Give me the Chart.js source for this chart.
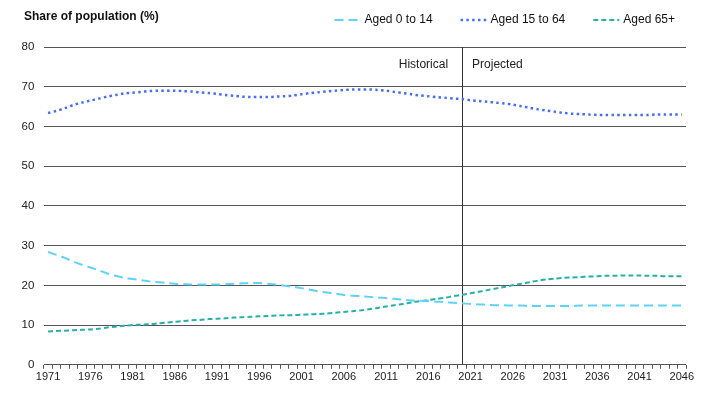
<!DOCTYPE html>
<html>
<head>
<meta charset="utf-8">
<script src="https://cdn.jsdelivr.net/npm/chart.js@4/dist/chart.umd.min.js"></script>
<style>
  html, body { margin: 0; padding: 0; background: #fff; }
  #wrap { width: 720px; height: 398px; position: relative; }
</style>
</head>
<body>
<div id="wrap"><canvas id="popChart"></canvas></div>
<script>
// Data
let years = [];
for (let y = 1971; y <= 2046; y++) years.push(String(y));

let aged0to14 = [
  28.4, 27.7, 26.9, 26.0, 25.2, 24.5, 23.8, 23.0, 22.4, 21.9,
  21.6, 21.3, 21.0, 20.8, 20.6, 20.4, 20.3, 20.2, 20.2, 20.2,
  20.2, 20.3, 20.4, 20.5, 20.6, 20.6, 20.4, 20.2, 19.9, 19.6,
  19.3, 18.9, 18.5, 18.2, 17.9, 17.6, 17.4, 17.3, 17.1, 16.9,
  16.8, 16.6, 16.4, 16.2, 16.1, 16.0, 15.9, 15.8, 15.6, 15.5,
  15.3, 15.2, 15.1, 15.0, 15.0, 14.9, 14.9, 14.8, 14.8, 14.8,
  14.8, 14.8, 14.8, 14.9, 14.9, 14.9, 14.9, 14.9, 14.9, 14.9,
  14.9, 14.9, 14.9, 14.9, 14.9, 14.9
];
let aged15to64 = [
  63.4, 63.9, 64.6, 65.4, 66.0, 66.5, 67.0, 67.5, 67.9, 68.3,
  68.5, 68.7, 68.9, 69.0, 69.0, 69.0, 68.9, 68.8, 68.6, 68.4,
  68.2, 67.9, 67.7, 67.5, 67.4, 67.4, 67.4, 67.5, 67.6, 67.8,
  68.1, 68.4, 68.6, 68.8, 69.0, 69.2, 69.3, 69.3, 69.3, 69.2,
  69.0, 68.7, 68.4, 68.1, 67.8, 67.6, 67.4, 67.2, 67.0, 66.9,
  66.6, 66.4, 66.2, 66.0, 65.8, 65.5, 65.1, 64.7, 64.3, 64.0,
  63.7, 63.4, 63.2, 63.1, 63.0, 62.9, 62.9, 62.9, 62.9, 62.9,
  62.9, 62.9, 63.0, 63.0, 63.0, 63.0
];
let aged65plus = [
  8.4, 8.5, 8.6, 8.7, 8.8, 8.9, 9.1, 9.4, 9.6, 9.8,
  10.0, 10.1, 10.2, 10.4, 10.6, 10.8, 11.0, 11.2, 11.3, 11.5,
  11.6, 11.7, 11.9, 12.0, 12.1, 12.2, 12.3, 12.4, 12.5, 12.5,
  12.6, 12.7, 12.8, 12.9, 13.1, 13.3, 13.5, 13.7, 14.0, 14.3,
  14.7, 15.0, 15.3, 15.7, 16.0, 16.3, 16.6, 16.9, 17.3, 17.6,
  18.0, 18.4, 18.8, 19.2, 19.6, 20.0, 20.4, 20.8, 21.2, 21.5,
  21.7, 21.9, 22.0, 22.1, 22.2, 22.3, 22.4, 22.4, 22.5, 22.5,
  22.5, 22.4, 22.4, 22.3, 22.3, 22.3
];
let seriesNames = ['Aged 0 to 14', 'Aged 15 to 64', 'Aged 65+'];
let yTicks = [0, 10, 20, 30, 40, 50, 60, 70, 80];
let splitYear = '2020';
let titleText = 'Share of population (%)';
let leftNote = 'Historical';
let rightNote = 'Projected';

const FONT = '"Liberation Sans", Arial, sans-serif';
const GRID = '#555555';

// Title, legend and historical/projected split
let extras = {
  id: 'extras',
  beforeDatasetsDraw(chart) {
    let ctx = chart.ctx;
    let area = chart.chartArea;
    let x = chart.scales.x.getPixelForValue(years.indexOf(splitYear));
    ctx.save();
    ctx.strokeStyle = '#333';
    ctx.lineWidth = 1;
    ctx.beginPath();
    ctx.moveTo(Math.round(x) + 0.5, area.top);
    ctx.lineTo(Math.round(x) + 0.5, area.bottom);
    ctx.stroke();

    let ny = chart.scales.y.getPixelForValue(75.5);
    ctx.font = '12px ' + FONT;
    ctx.fillStyle = '#222';
    ctx.textBaseline = 'middle';
    ctx.textAlign = 'right';
    ctx.fillText(leftNote, x - 14, ny);
    ctx.textAlign = 'left';
    ctx.fillText(rightNote, x + 10, ny);
    ctx.restore();
  },
  afterDraw(chart) {
    let ctx = chart.ctx;
    ctx.save();
    ctx.textBaseline = 'middle';
    ctx.fillStyle = '#111';
    ctx.font = 'bold 12px ' + FONT;
    ctx.textAlign = 'left';
    ctx.fillText(titleText, 24, 17);

    // legend, right aligned
    ctx.font = '12px ' + FONT;
    let sym = 26, gap = 4, pad = 28;
    let widths = chart.data.datasets.map(d => sym + gap + ctx.measureText(d.label).width);
    let total = widths.reduce((a, b) => a + b, 0) + pad * (widths.length - 1);
    let lx = 675 - total;
    let ly = 20;
    chart.data.datasets.forEach((d, i) => {
      ctx.strokeStyle = d.borderColor;
      ctx.lineWidth = d.borderWidth;
      ctx.setLineDash(d.borderDash);
      ctx.lineCap = 'butt';
      ctx.beginPath();
      ctx.moveTo(lx, ly);
      ctx.lineTo(lx + sym, ly);
      ctx.stroke();
      ctx.setLineDash([]);
      ctx.fillStyle = '#111';
      ctx.fillText(d.label, lx + sym + gap, ly);
      lx += widths[i] + pad;
    });
    ctx.restore();
  }
};

let popChart = new Chart(document.getElementById('popChart'), {
  type: 'line',
  data: {
    labels: years,
    datasets: [
      {
        label: seriesNames[0],
        data: aged0to14,
        borderColor: '#5fd2f8',
        borderWidth: 2,
        borderDash: [9, 5],
        pointRadius: 0,
        tension: 0.3
      },
      {
        label: seriesNames[1],
        data: aged15to64,
        borderColor: '#4a6ef0',
        borderWidth: 2.5,
        borderDash: [2.5, 3.3],
        pointRadius: 0,
        tension: 0.3
      },
      {
        label: seriesNames[2],
        data: aged65plus,
        borderColor: '#27b1a6',
        borderWidth: 2,
        borderDash: [5, 3],
        pointRadius: 0,
        tension: 0.3
      }
    ]
  },
  options: {
    responsive: true,
    maintainAspectRatio: false,
    animation: false,
    layout: { padding: { top: 47, right: 34, bottom: 12, left: 12 } },
    plugins: {
      legend: { display: false },
      tooltip: { enabled: false }
    },
    scales: {
      x: {
        offset: true,
        grid: {
          offset: true,
          drawOnChartArea: false,
          drawTicks: true,
          tickLength: 4,
          color: GRID
        },
        border: { display: false },
        ticks: {
          autoSkip: false,
          maxRotation: 0,
          padding: 2,
          color: '#222',
          font: { family: FONT, size: 11 },
          callback: function (v, i) {
            return i % 5 === 0 ? years[i] : '';
          }
        }
      },
      y: {
        min: yTicks[0],
        max: yTicks[yTicks.length - 1],
        border: { display: false },
        grid: { color: GRID, lineWidth: 1, drawTicks: false },
        afterBuildTicks: function (axis) {
          axis.ticks = yTicks.map(v => ({ value: v }));
        },
        ticks: {
          padding: 9.5,
          color: '#222',
          font: { family: FONT, size: 11.5 }
        }
      }
    }
  },
  plugins: [extras]
});
</script>
</body>
</html>
